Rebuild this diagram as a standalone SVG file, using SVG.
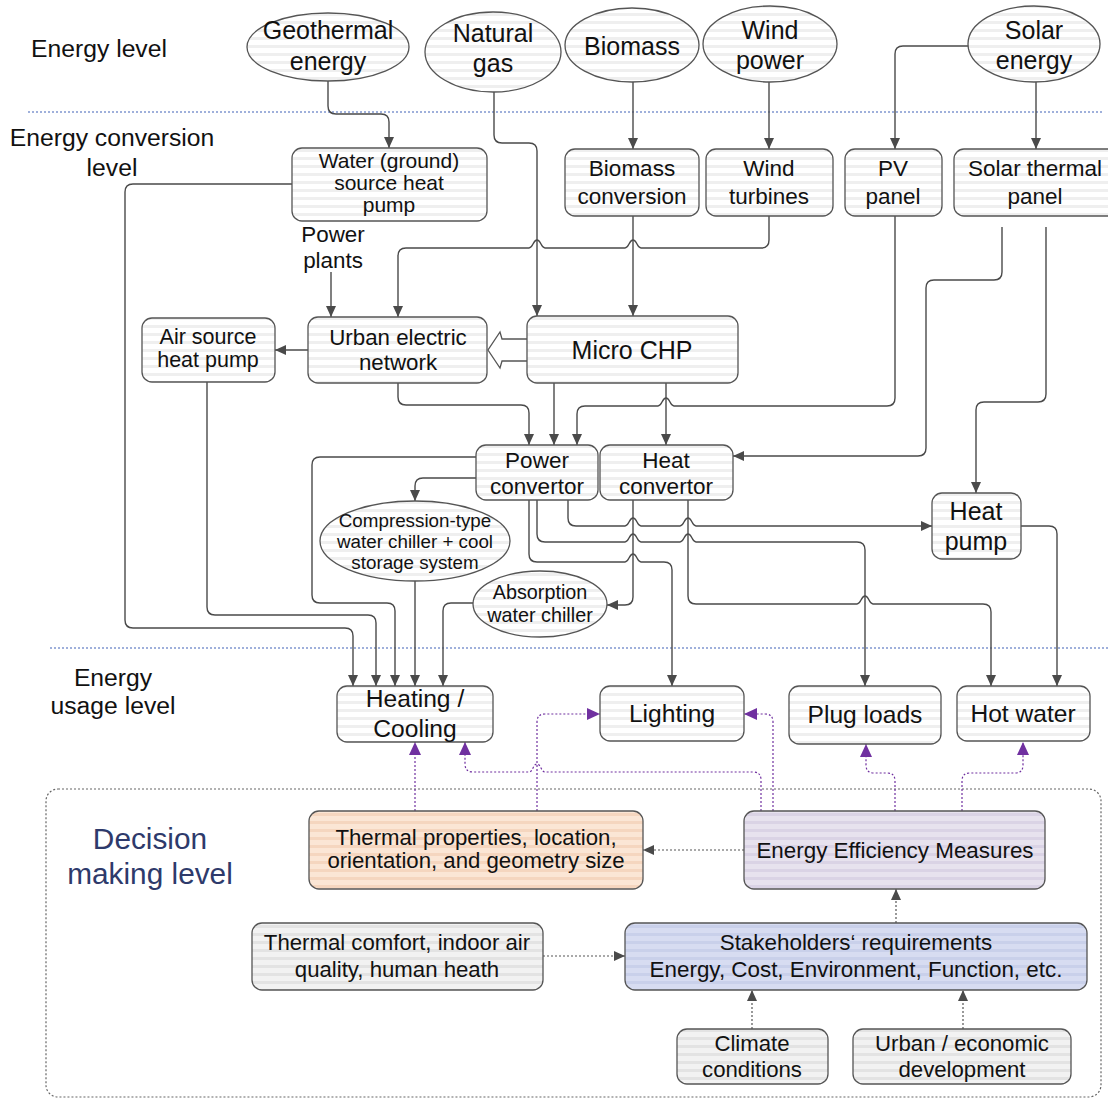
<svg xmlns="http://www.w3.org/2000/svg" width="1108" height="1099" viewBox="0 0 1108 1099">
<defs>
<style>
.t{font-family:"Liberation Sans",Arial,sans-serif;fill:#111;text-anchor:middle;dominant-baseline:central}
.n{stroke:#555;stroke-width:1.3}
.c{fill:none;stroke:#4a4a4a;stroke-width:1.4}
.p{fill:none;stroke:#7030a0;stroke-width:1.2;stroke-dasharray:2 2}
.g{fill:none;stroke:#555;stroke-width:1.2;stroke-dasharray:2 2}
.lv{fill:none;stroke:#8097d0;stroke-width:1.5;stroke-dasharray:2 2}
</style>
<pattern id="pw" width="8" height="8" patternUnits="userSpaceOnUse"><rect width="8" height="8" fill="#fff"/><rect y="5" width="8" height="3" fill="#efefef"/></pattern>
<pattern id="pg" width="8" height="8" patternUnits="userSpaceOnUse"><rect width="8" height="8" fill="#f2f2f2"/><rect y="5" width="8" height="3" fill="#e3e3e3"/></pattern>
<pattern id="po" width="8" height="8" patternUnits="userSpaceOnUse"><rect width="8" height="8" fill="#fbe6d5"/><rect y="5" width="8" height="3" fill="#f5d6bf"/></pattern>
<pattern id="pl" width="8" height="8" patternUnits="userSpaceOnUse"><rect width="8" height="8" fill="#e7e2ee"/><rect y="5" width="8" height="3" fill="#dad3e5"/></pattern>
<pattern id="pb" width="8" height="8" patternUnits="userSpaceOnUse"><rect width="8" height="8" fill="#d7dcf1"/><rect y="5" width="8" height="3" fill="#c9d0ea"/></pattern>
<marker id="a" markerUnits="userSpaceOnUse" markerWidth="12" markerHeight="10" refX="11" refY="5" orient="auto"><path d="M0,0 L11,5 L0,10 z" fill="#4a4a4a"/></marker>
<marker id="ap" markerUnits="userSpaceOnUse" markerWidth="14" markerHeight="12" refX="13" refY="6" orient="auto"><path d="M0,0 L13,6 L0,12 z" fill="#7030a0"/></marker>
</defs>
<rect width="1108" height="1099" fill="#fff"/>

<g id="levels">
<path class="lv" d="M28 112 H1102"/>
<path class="lv" d="M50 648 H1108"/>
<rect x="46" y="789" width="1055" height="308" rx="12" fill="none" stroke="#666" stroke-width="1.2" stroke-dasharray="2 2"/>
<text class="t" x="99" y="48" font-size="24.7">Energy level</text>
<text class="t" x="112" y="137" font-size="24.7">Energy conversion</text>
<text class="t" x="112" y="167" font-size="24.7">level</text>
<text class="t" x="113" y="677" font-size="24.7">Energy</text>
<text class="t" x="113" y="705" font-size="24.7">usage level</text>
<text class="t" x="150" y="838" font-size="29.8" style="fill:#2e3a6b">Decision</text>
<text class="t" x="150" y="873" font-size="29.8" style="fill:#2e3a6b">making level</text>
</g>

<g id="connectors">
<path class="c" marker-end="url(#a)" d="M328 81 V106 Q328 114 336 114 H381 Q389 114 389 122 V148"/>
<path class="c" marker-end="url(#a)" d="M494 92 V135 Q494 143 502 143 H529 Q537 143 537 151 V316"/>
<path class="c" marker-end="url(#a)" d="M633 82 V149"/>
<path class="c" marker-end="url(#a)" d="M769 82 V149"/>
<path class="c" marker-end="url(#a)" d="M968 46 H903 Q895 46 895 54 V149"/>
<path class="c" marker-end="url(#a)" d="M1036 82 V149"/>
<path class="c" marker-end="url(#a)" d="M292 184 H133 Q125 184 125 192 V620 Q125 628 133 628 H345 Q353 628 353 636 V686"/>
<path class="c" marker-end="url(#a)" d="M769 216 V240 Q769 248 761 248 H641 C637 248 637 240 633 240 C629 240 629 248 625 248 H545 C541 248 541 240 537 240 C533 240 533 248 529 248 H406 Q398 248 398 256 V317"/>
<path class="c" marker-end="url(#a)" d="M331 272 V317"/>
<path class="c" marker-end="url(#a)" d="M633 216 V316"/>
<path d="M530 339 H502 L500 332 L488 350 L500 368 L502 361 H530 A11 11 0 0 0 530 339 z" fill="#fff" stroke="#555" stroke-width="1.3"/>
<path class="c" marker-end="url(#a)" d="M308 350 H275"/>
<path class="c" marker-end="url(#a)" d="M398 383 V397 Q398 405 406 405 H521 Q529 405 529 413 V445"/>
<path class="c" marker-end="url(#a)" d="M554 383 V445"/>
<path class="c" marker-end="url(#a)" d="M666 383 V445"/>
<path class="c" marker-end="url(#a)" d="M895 216 V398 Q895 406 887 406 H674 C670 406 670 398 666 398 C662 398 662 406 658 406 H585 Q577 406 577 414 V445"/>
<path class="c" marker-end="url(#a)" d="M1002 227 V272 Q1002 280 994 280 H934 Q926 280 926 288 V448 Q926 456 918 456 H733"/>
<path class="c" marker-end="url(#a)" d="M1046 227 V394 Q1046 402 1038 402 H984 Q976 402 976 410 V493"/>
<path class="c" marker-end="url(#a)" d="M207 382 V607 Q207 615 215 615 H368 Q376 615 376 623 V686"/>
<path class="c" marker-end="url(#a)" d="M476 457 H320 Q312 457 312 465 V595 Q312 603 320 603 H387 Q395 603 395 611 V686"/>
<path class="c" marker-end="url(#a)" d="M476 478 H423 Q415 478 415 486 V501"/>
<path class="c" marker-end="url(#a)" d="M415 581 V686"/>
<path class="c" marker-end="url(#a)" d="M473 603 H451 Q443 603 443 611 V686"/>
<path class="c" marker-end="url(#a)" d="M633 500 V597 Q633 605 625 605 H607"/>
<path class="c" marker-end="url(#a)" d="M568 500 V518 Q568 526 576 526 H625 C629 526 629 518 633 518 C637 518 637 526 641 526 H680 C684 526 684 518 688 518 C692 518 692 526 696 526 H932"/>
<path class="c" marker-end="url(#a)" d="M537 500 V534 Q537 542 545 542 H625 C629 542 629 534 633 534 C637 534 637 542 641 542 H680 C684 542 684 534 688 534 C692 534 692 542 696 542 H857 Q865 542 865 550 V686"/>
<path class="c" marker-end="url(#a)" d="M529 500 V554 Q529 562 537 562 H625 C629 562 629 554 633 554 C637 554 637 562 641 562 H664 Q672 562 672 570 V686"/>
<path class="c" marker-end="url(#a)" d="M688 500 V596 Q688 604 696 604 H857 C861 604 861 596 865 596 C869 596 869 604 873 604 H983 Q991 604 991 612 V686"/>
<path class="c" marker-end="url(#a)" d="M1021 526 H1049 Q1057 526 1057 534 V686"/>
<path class="p" marker-end="url(#ap)" d="M415 811 V742"/>
<path class="p" marker-end="url(#ap)" d="M761 811 V780 Q761 772 753 772 H545 C541 772 541 764 537 764 C533 764 533 772 529 772 H473 Q465 772 465 764 V742"/>
<path class="p" marker-end="url(#ap)" d="M537 811 V722 Q537 714 545 714 H600"/>
<path class="p" marker-end="url(#ap)" d="M773 811 V722 Q773 714 765 714 H744"/>
<path class="p" marker-end="url(#ap)" d="M895 811 V781 Q895 773 887 773 H874 Q866 773 866 765 V744"/>
<path class="p" marker-end="url(#ap)" d="M962 811 V781 Q962 773 970 773 H1015 Q1023 773 1023 765 V742"/>
<path class="g" marker-end="url(#a)" d="M744 850 H643"/>
<path class="g" marker-end="url(#a)" d="M896 923 V889"/>
<path class="g" marker-end="url(#a)" d="M543 956 H625"/>
<path class="g" marker-end="url(#a)" d="M752 1029 V990"/>
<path class="g" marker-end="url(#a)" d="M963 1029 V990"/>
</g>

<g id="geothermal"><ellipse class="n" cx="328" cy="47" rx="81" ry="34" fill="url(#pw)"/><text class="t" x="328" y="30" font-size="25">Geothermal</text><text class="t" x="328" y="61" font-size="25">energy</text></g>
<g id="natural-gas"><ellipse class="n" cx="493" cy="52" rx="68" ry="40" fill="url(#pw)"/><text class="t" x="493" y="33" font-size="25">Natural</text><text class="t" x="493" y="63" font-size="25">gas</text></g>
<g id="biomass"><ellipse class="n" cx="632" cy="45" rx="67" ry="37" fill="url(#pw)"/><text class="t" x="632" y="46" font-size="25">Biomass</text></g>
<g id="wind-power"><ellipse class="n" cx="770" cy="44" rx="67" ry="38" fill="url(#pw)"/><text class="t" x="770" y="30" font-size="25">Wind</text><text class="t" x="770" y="60" font-size="25">power</text></g>
<g id="solar-energy"><ellipse class="n" cx="1034" cy="44" rx="66" ry="38" fill="url(#pw)"/><text class="t" x="1034" y="30" font-size="25">Solar</text><text class="t" x="1034" y="60" font-size="25">energy</text></g>

<g id="water-hp"><rect class="n" x="292" y="148" width="195" height="73" rx="10" fill="url(#pw)"/><text class="t" x="389" y="160" font-size="21">Water (ground)</text><text class="t" x="389" y="182" font-size="21">source heat</text><text class="t" x="389" y="204" font-size="21">pump</text></g>
<g id="biomass-conversion"><rect class="n" x="565" y="149" width="134" height="67" rx="10" fill="url(#pw)"/><text class="t" x="632" y="168" font-size="22.5">Biomass</text><text class="t" x="632" y="196" font-size="22.5">conversion</text></g>
<g id="wind-turbines"><rect class="n" x="706" y="149" width="127" height="67" rx="10" fill="url(#pw)"/><text class="t" x="769" y="168" font-size="22.5">Wind</text><text class="t" x="769" y="196" font-size="22.5">turbines</text></g>
<g id="pv-panel"><rect class="n" x="845" y="149" width="97" height="67" rx="10" fill="url(#pw)"/><text class="t" x="893" y="168" font-size="22.5">PV</text><text class="t" x="893" y="196" font-size="22.5">panel</text></g>
<g id="solar-thermal"><rect class="n" x="954" y="149" width="165" height="67" rx="10" fill="url(#pw)"/><text class="t" x="1035" y="168" font-size="22.5">Solar thermal</text><text class="t" x="1035" y="196" font-size="22.5">panel</text></g>
<g id="power-plants"><text class="t" x="333" y="234" font-size="22.4">Power</text><text class="t" x="333" y="260" font-size="22.4">plants</text></g>
<g id="air-hp"><rect class="n" x="142" y="318" width="133" height="64" rx="10" fill="url(#pw)"/><text class="t" x="208" y="337" font-size="21.5">Air source</text><text class="t" x="208" y="360" font-size="21.5">heat pump</text></g>
<g id="urban-network"><rect class="n" x="308" y="317" width="179" height="66" rx="10" fill="url(#pw)"/><text class="t" x="398" y="337" font-size="22.3">Urban electric</text><text class="t" x="398" y="362" font-size="22.3">network</text></g>
<g id="micro-chp"><rect class="n" x="527" y="316" width="211" height="67" rx="10" fill="url(#pw)"/><text class="t" x="632" y="350" font-size="25">Micro CHP</text></g>
<g id="power-convertor"><rect class="n" x="476" y="445" width="122" height="55" rx="10" fill="url(#pw)"/><text class="t" x="537" y="460" font-size="22.5">Power</text><text class="t" x="537" y="486" font-size="22.5">convertor</text></g>
<g id="heat-convertor"><rect class="n" x="600" y="445" width="133" height="55" rx="10" fill="url(#pw)"/><text class="t" x="666" y="460" font-size="22.5">Heat</text><text class="t" x="666" y="486" font-size="22.5">convertor</text></g>
<g id="heat-pump"><rect class="n" x="932" y="493" width="89" height="66" rx="10" fill="url(#pw)"/><text class="t" x="976" y="511" font-size="25">Heat</text><text class="t" x="976" y="541" font-size="25">pump</text></g>
<g id="compression-chiller"><ellipse class="n" cx="415" cy="541" rx="95" ry="40" fill="url(#pw)"/><text class="t" x="415" y="520" font-size="18.8">Compression-type</text><text class="t" x="415" y="541" font-size="18.8">water chiller + cool</text><text class="t" x="415" y="562" font-size="18.8">storage system</text></g>
<g id="absorption-chiller"><ellipse class="n" cx="540" cy="604" rx="67" ry="33" fill="url(#pw)"/><text class="t" x="540" y="592" font-size="19.8">Absorption</text><text class="t" x="540" y="615" font-size="19.8">water chiller</text></g>

<g id="heating-cooling"><rect class="n" x="337" y="686" width="156" height="56" rx="10" fill="url(#pw)"/><text class="t" x="415" y="698" font-size="24.6">Heating /</text><text class="t" x="415" y="728" font-size="24.6">Cooling</text></g>
<g id="lighting"><rect class="n" x="600" y="686" width="144" height="55" rx="10" fill="url(#pw)"/><text class="t" x="672" y="713" font-size="24.6">Lighting</text></g>
<g id="plug-loads"><rect class="n" x="789" y="686" width="152" height="58" rx="10" fill="url(#pw)"/><text class="t" x="865" y="714" font-size="24.6">Plug loads</text></g>
<g id="hot-water"><rect class="n" x="957" y="686" width="133" height="55" rx="10" fill="url(#pw)"/><text class="t" x="1023" y="713" font-size="24.6">Hot water</text></g>

<g id="thermal-properties"><rect class="n" x="309" y="811" width="334" height="78" rx="10" fill="url(#po)"/><text class="t" x="476" y="837" font-size="22.2">Thermal properties, location,</text><text class="t" x="476" y="860" font-size="22.2">orientation, and geometry size</text></g>
<g id="eem"><rect class="n" x="744" y="811" width="301" height="78" rx="10" fill="url(#pl)"/><text class="t" x="895" y="850" font-size="22.4">Energy Efficiency Measures</text></g>
<g id="thermal-comfort"><rect class="n" x="252" y="923" width="291" height="67" rx="10" fill="url(#pg)"/><text class="t" x="397" y="942" font-size="22.2">Thermal comfort, indoor air</text><text class="t" x="397" y="969" font-size="22.2">quality, human heath</text></g>
<g id="stakeholders"><rect class="n" x="625" y="923" width="462" height="67" rx="10" fill="url(#pb)"/><text class="t" x="856" y="942" font-size="22.4">Stakeholders‘ requirements</text><text class="t" x="856" y="969" font-size="22.4">Energy, Cost, Environment, Function, etc.</text></g>
<g id="climate"><rect class="n" x="677" y="1029" width="151" height="55" rx="10" fill="url(#pg)"/><text class="t" x="752" y="1043" font-size="22.2">Climate</text><text class="t" x="752" y="1069" font-size="22.2">conditions</text></g>
<g id="urban-economic"><rect class="n" x="853" y="1029" width="218" height="55" rx="10" fill="url(#pg)"/><text class="t" x="962" y="1043" font-size="22.2">Urban / economic</text><text class="t" x="962" y="1069" font-size="22.2">development</text></g>
</svg>
